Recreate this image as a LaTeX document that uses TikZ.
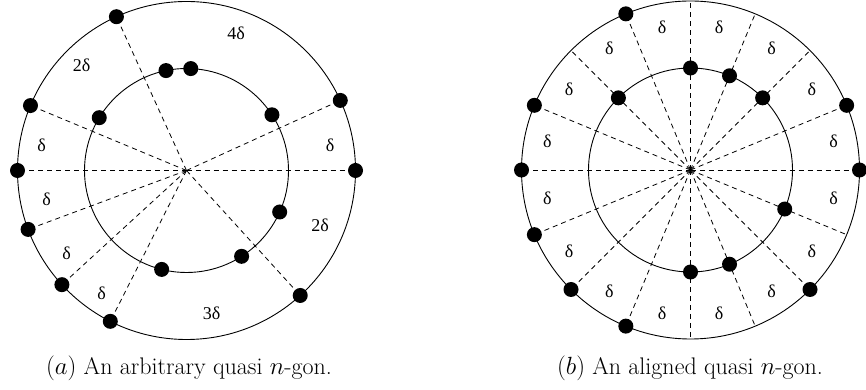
\documentclass[tikz,border=0pt]{standalone}
\usepackage{fontspec}
\newfontfamily\timesf{Liberation Serif}
\begin{document}
\begin{tikzpicture}[x=1pt,y=1pt,
  ring/.style={draw=black, line width=0.9pt},
  ray/.style={draw=black, line width=0.8pt, dash pattern=on 5pt off 4pt},
  dot/.style={circle, fill=black, inner sep=0pt, minimum size=15pt},
  lab/.style={font=\timesf\fontsize{18}{21}\selectfont, inner sep=0pt},
  captext/.style={font=\fontsize{24}{28}\selectfont, inner sep=0pt, anchor=base}]
\useasboundingbox (0,0) rectangle (866,390);

% ---------- (a) arbitrary ----------
\begin{scope}[shift={(186.5,219.5)}]
  \coordinate (cL) at (0,0);
  \draw[ring] (cL) circle[radius=169pt];
  \draw[ring] (cL) circle[radius=102pt];
  \foreach \a [count=\i] in {114.5,157.4,180,200.4,222.5,243.2,312.3,0,24.5} {
    \node[dot] (Lo\i) at (\a:169pt) {};
    \draw[ray] (cL) -- (Lo\i.center);
  }
  \foreach \a [count=\i] in {101.6,87.6,148.8,33.1,336.0,302.7,255.9} {
    \node[dot] (Li\i) at (\a:102pt) {};
  }
\end{scope}
\node[lab] (la1) at (236,357) {4δ};
\node[lab] (la2) at (81.7,325) {2δ};
\node[lab] (la3) at (41.7,244.3) {δ};
\node[lab] (la4) at (330,244.3) {δ};
\node[lab] (la5) at (46.7,191) {δ};
\node[lab] (la6) at (320,164.3) {2δ};
\node[lab] (la7) at (66.7,137) {δ};
\node[lab] (la8) at (101.7,97) {δ};
\node[lab] (la9) at (211.7,77) {3δ};

% ---------- (b) aligned ----------
\begin{scope}[shift={(690.5,220)}]
  \coordinate (cR) at (0,0);
  \draw[ring] (cR) circle[radius=169pt];
  \draw[ring] (cR) circle[radius=102pt];
  \foreach \k in {0,...,15} {
    \coordinate (Re\k) at ({22.5*\k}:169pt);
    \draw[ray] (cR) -- (Re\k);
    \node[lab] (Rl\k) at ({11.25+22.5*\k}:146pt) {δ};
  }
  \foreach \a [count=\i] in {0,22.5,112.5,157.5,180,202.5,225,247.5,315} {
    \node[dot] (Ro\i) at (\a:169pt) {};
  }
  \foreach \a [count=\i] in {90,67.5,45,135,337.5,292.5,270} {
    \node[dot] (Ri\i) at (\a:102pt) {};
  }
\end{scope}

% ---------- captions ----------
\node[captext] (capa) at (189,15) {$(a)$ An arbitrary quasi $n$-gon.};
\node[captext] (capb) at (690,15) {$(b)$ An aligned quasi $n$-gon.};
\end{tikzpicture}
\end{document}
